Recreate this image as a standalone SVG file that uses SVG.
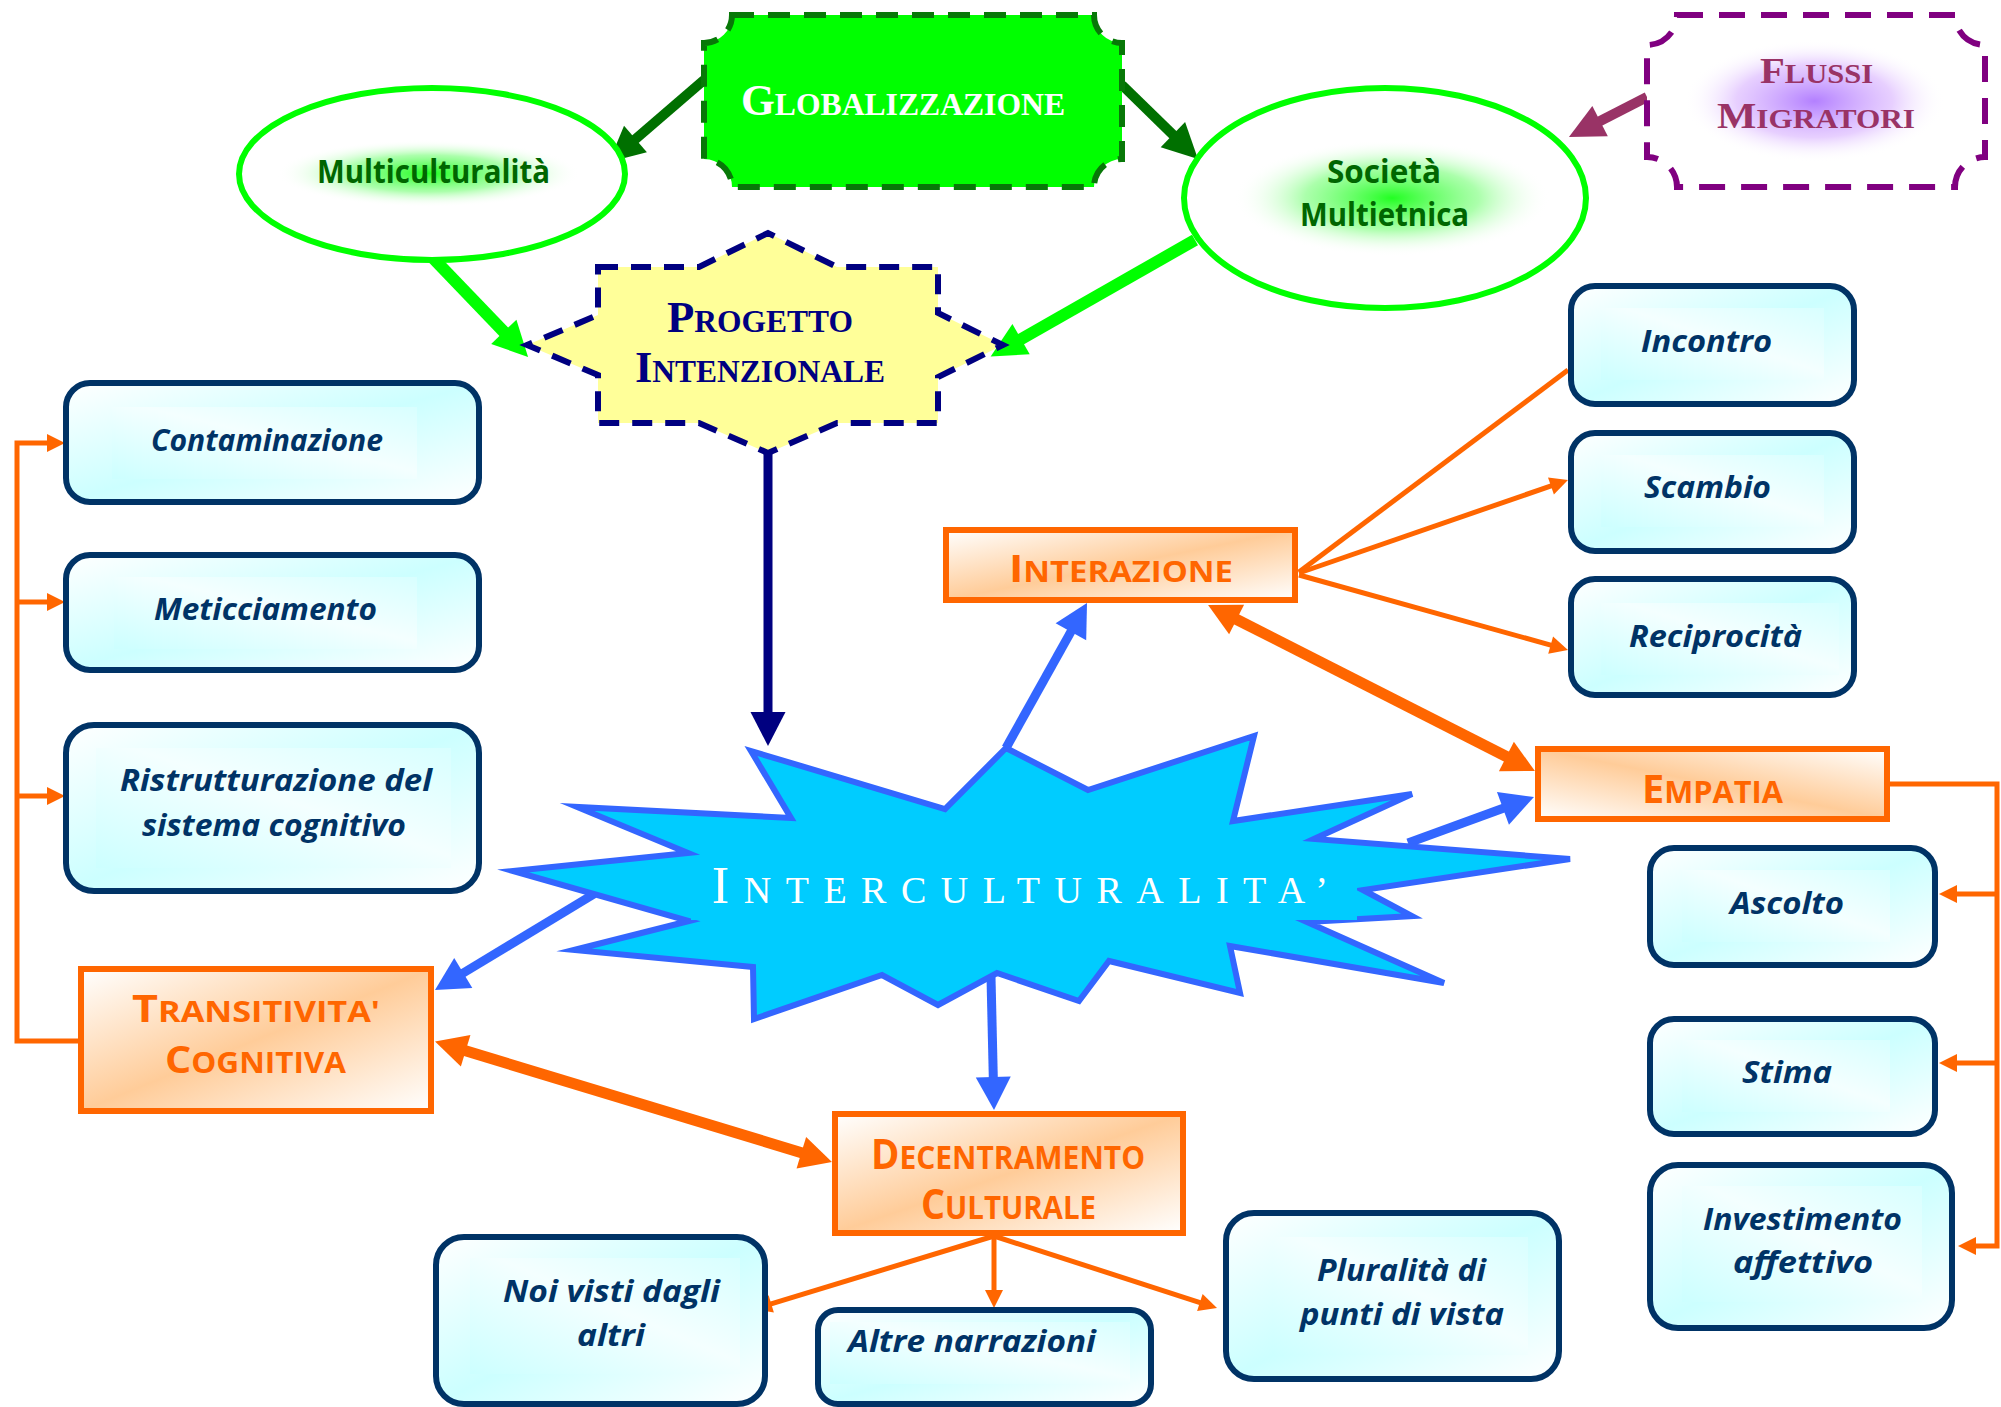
<svg xmlns="http://www.w3.org/2000/svg" width="2001" height="1407" viewBox="0 0 2001 1407">
<defs>
<style>
.box{fill:url(#gBlue);stroke:#003366;stroke-width:6}
.inner{fill:url(#gBlueIn);stroke:none}
.obox{fill:url(#gOr);stroke:#FF6600;stroke-width:6}
.bt{font-family:'Open Sans',sans-serif;font-weight:700;font-style:italic;font-size:30px;fill:#003366}
.ot{font-family:'Open Sans',sans-serif;font-weight:700;fill:#FF6600}
.st{font-family:'Liberation Serif',serif;font-weight:700}
.gt{font-family:'Open Sans',sans-serif;font-weight:700;font-size:32px;fill:#006600}
.ell{fill:#FFFFFF;stroke:#00FF00;stroke-width:6}
.thin{fill:none;stroke:#FF6600;stroke-width:5}
</style>
<linearGradient id="gBlue" x1="0" y1="0" x2="1" y2="1">
<stop offset="0" stop-color="#FFFFFF"/><stop offset="0.5" stop-color="#CCFFFF"/><stop offset="1" stop-color="#FFFFFF"/>
</linearGradient>
<linearGradient id="gBlueIn" x1="0" y1="1" x2="1" y2="0">
<stop offset="0" stop-color="#CCFFFF"/><stop offset="0.55" stop-color="#F4FFFF"/><stop offset="1" stop-color="#D8FFFF"/>
</linearGradient>
<linearGradient id="gOr" x1="0" y1="0" x2="1" y2="1">
<stop offset="0" stop-color="#FFFFFF"/><stop offset="0.5" stop-color="#FFCC99"/><stop offset="1" stop-color="#FFFFFF"/>
</linearGradient>
<linearGradient id="gOr2" x1="0" y1="1" x2="1" y2="0">
<stop offset="0" stop-color="#FFFFFF"/><stop offset="0.5" stop-color="#FFCC99"/><stop offset="1" stop-color="#FFFFFF"/>
</linearGradient>
<radialGradient id="gGlowG">
<stop offset="0" stop-color="#22FF22" stop-opacity="1"/><stop offset="0.55" stop-color="#88FF88" stop-opacity="0.7"/><stop offset="1" stop-color="#FFFFFF" stop-opacity="0"/>
</radialGradient>
<radialGradient id="gGlowP">
<stop offset="0" stop-color="#B380FF" stop-opacity="1"/><stop offset="0.6" stop-color="#DDBBFF" stop-opacity="0.7"/><stop offset="1" stop-color="#FFFFFF" stop-opacity="0"/>
</radialGradient>
<marker id="mDG" markerUnits="userSpaceOnUse" markerWidth="35" markerHeight="35" refX="1" refY="17.5" orient="auto" overflow="visible"><path d="M0,0 L35,17.5 L0,35 Z" fill="#007000"/></marker>
<marker id="mG" markerUnits="userSpaceOnUse" markerWidth="35" markerHeight="35" refX="1" refY="17.5" orient="auto" overflow="visible"><path d="M0,0 L35,17.5 L0,35 Z" fill="#00FF00"/></marker>
<marker id="mP" markerUnits="userSpaceOnUse" markerWidth="35" markerHeight="34" refX="1" refY="17" orient="auto" overflow="visible"><path d="M0,0 L35,17 L0,34 Z" fill="#993366"/></marker>
<marker id="mN" markerUnits="userSpaceOnUse" markerWidth="34" markerHeight="35" refX="1" refY="17.5" orient="auto" overflow="visible"><path d="M0,0 L34,17.5 L0,35 Z" fill="#000080"/></marker>
<marker id="mB" markerUnits="userSpaceOnUse" markerWidth="33" markerHeight="35" refX="1" refY="17.5" orient="auto" overflow="visible"><path d="M0,0 L33,17.5 L0,35 Z" fill="#3366FF"/></marker>
<marker id="mO" markerUnits="userSpaceOnUse" markerWidth="32" markerHeight="33" refX="1" refY="16.5" orient="auto-start-reverse" overflow="visible"><path d="M0,0 L32,16.5 L0,33 Z" fill="#FF6600"/></marker>
<marker id="mo" markerUnits="userSpaceOnUse" markerWidth="18" markerHeight="18" refX="1" refY="9" orient="auto" overflow="visible"><path d="M0,0 L18,9 L0,18 Z" fill="#FF6600"/></marker>
</defs>
<rect width="2001" height="1407" fill="#FFFFFF"/>

<g id="connectors">
<line x1="704" y1="80" x2="634.7" y2="139.7" stroke="#007000" stroke-width="10" marker-end="url(#mDG)"/>
<line x1="1122" y1="85" x2="1173.6" y2="135.3" stroke="#007000" stroke-width="10" marker-end="url(#mDG)"/>
<line x1="433" y1="258" x2="504.5" y2="332.5" stroke="#00FF00" stroke-width="12" marker-end="url(#mG)"/>
<line x1="1195" y1="240" x2="1020.2" y2="339.6" stroke="#00FF00" stroke-width="12" marker-end="url(#mG)"/>
<line x1="1647" y1="97" x2="1599.2" y2="121.5" stroke="#993366" stroke-width="10" marker-end="url(#mP)"/>
<line x1="768" y1="453" x2="768" y2="713" stroke="#000080" stroke-width="9" marker-end="url(#mN)"/>
<line x1="1006" y1="748" x2="1071.4" y2="630.9" stroke="#3366FF" stroke-width="9" marker-end="url(#mB)"/>
<line x1="594" y1="894" x2="462.4" y2="973.5" stroke="#3366FF" stroke-width="9" marker-end="url(#mB)"/>
<line x1="991" y1="977" x2="993.3" y2="1078" stroke="#3366FF" stroke-width="9" marker-end="url(#mB)"/>
<line x1="1408" y1="843" x2="1503.9" y2="808" stroke="#3366FF" stroke-width="9" marker-end="url(#mB)"/>
<line x1="1235.7" y1="619" x2="1507.3" y2="757" stroke="#FF6600" stroke-width="11" marker-start="url(#mO)" marker-end="url(#mO)"/>
<line x1="464.7" y1="1050.5" x2="802.3" y2="1153" stroke="#FF6600" stroke-width="11" marker-start="url(#mO)" marker-end="url(#mO)"/>
<line class="thin" x1="1299" y1="572" x2="1568" y2="370"/>
<line class="thin" x1="1299" y1="573" x2="1551.9" y2="485.6" marker-end="url(#mo)"/>
<line class="thin" x1="1299" y1="575" x2="1551.6" y2="645.4" marker-end="url(#mo)"/>
<line class="thin" x1="994" y1="1236" x2="770.3" y2="1304.1" marker-end="url(#mo)"/>
<line class="thin" x1="994" y1="1236" x2="994" y2="1291" marker-end="url(#mo)"/>
<line class="thin" x1="994" y1="1236" x2="1200.8" y2="1302.8" marker-end="url(#mo)"/>
<path class="thin" d="M79,1041 H17 V443 H48" marker-end="url(#mo)"/>
<path class="thin" d="M17,602 H48" marker-end="url(#mo)"/>
<path class="thin" d="M17,796 H48" marker-end="url(#mo)"/>
<path class="thin" d="M1890,784 H1997 V1246 H1975" marker-end="url(#mo)"/>
<path class="thin" d="M1997,894 H1956" marker-end="url(#mo)"/>
<path class="thin" d="M1997,1063 H1956" marker-end="url(#mo)"/>
</g>

<g id="globalizzazione">
<path d="M732,15 H1094 A28,28 0 0 0 1122,43 V159 A28,28 0 0 0 1094,187 H732 A28,28 0 0 0 704,159 V43 A28,28 0 0 0 732,15 Z" fill="#00FF00" stroke="#087808" stroke-width="6" stroke-dasharray="22 14"/>
<text class="st" x="741" y="115" fill="#FFFFFF" textLength="324" lengthAdjust="spacingAndGlyphs"><tspan font-size="44">G</tspan><tspan font-size="32">LOBALIZZAZIONE</tspan></text>
</g>

<g id="flussi-migratori">
<path d="M1677,15 H1955 A30,30 0 0 0 1985,45 V157 A30,30 0 0 0 1955,187 H1677 A30,30 0 0 0 1647,157 V45 A30,30 0 0 0 1677,15 Z" fill="#FFFFFF" stroke="#800080" stroke-width="6" stroke-dasharray="26 16"/>
<rect x="1684" y="40" width="261" height="122" fill="url(#gGlowP)"/>
<text class="st" x="1760" y="83" fill="#993366" textLength="113" lengthAdjust="spacingAndGlyphs"><tspan font-size="36">F</tspan><tspan font-size="27">LUSSI</tspan></text>
<text class="st" x="1717" y="128" fill="#993366" textLength="198" lengthAdjust="spacingAndGlyphs"><tspan font-size="36">M</tspan><tspan font-size="27">IGRATORI</tspan></text>
</g>

<g id="multiculturalita">
<ellipse class="ell" cx="432" cy="174" rx="193" ry="86"/>
<rect x="277" y="140" width="303" height="67" fill="url(#gGlowG)"/>
<text class="gt" x="317" y="183" textLength="233" lengthAdjust="spacingAndGlyphs">Multiculturalità</text>
</g>

<g id="societa-multietnica">
<ellipse class="ell" cx="1385" cy="198" rx="201" ry="110"/>
<rect x="1234" y="140" width="316" height="116" fill="url(#gGlowG)"/>
<text class="gt" x="1327" y="183" textLength="114" lengthAdjust="spacingAndGlyphs">Società</text>
<text class="gt" x="1300" y="226" textLength="169" lengthAdjust="spacingAndGlyphs">Multietnica</text>
</g>

<g id="progetto-intenzionale">
<path d="M598,267 H699 L768,233 L837,267 H938 V313 L1003,345 L938,377 V423 H837 L768,453 L699,423 H598 V375 L527,345 L598,315 Z" fill="#FFFF99" stroke="#000080" stroke-width="6" stroke-dasharray="20 13"/>
<text class="st" x="667" y="332" fill="#000080" textLength="186" lengthAdjust="spacingAndGlyphs"><tspan font-size="44">P</tspan><tspan font-size="31">ROGETTO</tspan></text>
<text class="st" x="635" y="382" fill="#000080" textLength="250" lengthAdjust="spacingAndGlyphs"><tspan font-size="44">I</tspan><tspan font-size="31">NTENZIONALE</tspan></text>
</g>

<g id="interculturalita">
<polygon points="751,751 791,818 577,807 688,853 513,871 689,921 574,950 753,967 754,1019 882,975 938,1005 997,973 1079,1001 1109,961 1240,993 1230,946 1444,983 1307,922 1412,916 1363,890 1570,859 1314,839 1412,794 1233,821 1254,736 1088,790 1006,748 945,809" fill="#00CCFF" stroke="#3366FF" stroke-width="6" stroke-miterlimit="6"/>
<rect x="691" y="856" width="666" height="64" fill="#00CCFF"/>
<text x="712" y="903" fill="#FFFFFF" font-family="'Liberation Serif',serif" textLength="616" lengthAdjust="spacing"><tspan font-size="52">I</tspan><tspan font-size="38">NTERCULTURALITA’</tspan></text>
</g>

<g id="contaminazione">
<rect class="box" x="66" y="383" width="413" height="119" rx="24"/>
<rect class="inner" x="112" y="407" width="305" height="72"/>
<text class="bt" x="151" y="451" textLength="232" lengthAdjust="spacingAndGlyphs">Contaminazione</text>
</g>
<g id="meticciamento">
<rect class="box" x="66" y="555" width="413" height="115" rx="24"/>
<rect class="inner" x="114" y="577" width="303" height="72"/>
<text class="bt" x="154" y="620" textLength="223" lengthAdjust="spacingAndGlyphs">Meticciamento</text>
</g>
<g id="ristrutturazione">
<rect class="box" x="66" y="725" width="413" height="166" rx="28"/>
<rect class="inner" x="96" y="748" width="355" height="120"/>
<text class="bt" x="120" y="791" textLength="312" lengthAdjust="spacingAndGlyphs">Ristrutturazione del</text>
<text class="bt" x="142" y="836" textLength="264" lengthAdjust="spacingAndGlyphs">sistema cognitivo</text>
</g>
<g id="transitivita-cognitiva">
<rect class="obox" x="81" y="969" width="350" height="142"/>
<text class="ot" x="132" y="1022" textLength="248" lengthAdjust="spacingAndGlyphs"><tspan font-size="38">T</tspan><tspan font-size="29">RANSITIVITA'</tspan></text>
<text class="ot" x="165" y="1073" textLength="181" lengthAdjust="spacingAndGlyphs"><tspan font-size="38">C</tspan><tspan font-size="29">OGNITIVA</tspan></text>
</g>

<g id="interazione">
<rect class="obox" x="946" y="530" width="349" height="70"/>
<text class="ot" x="1009" y="582" textLength="224" lengthAdjust="spacingAndGlyphs"><tspan font-size="37">I</tspan><tspan font-size="28">NTERAZIONE</tspan></text>
</g>
<g id="incontro">
<rect class="box" x="1571" y="286" width="283" height="118" rx="24"/>
<rect class="inner" x="1601" y="308" width="223" height="72"/>
<text class="bt" x="1641" y="352" textLength="131" lengthAdjust="spacingAndGlyphs">Incontro</text>
</g>
<g id="scambio">
<rect class="box" x="1571" y="433" width="283" height="118" rx="24"/>
<rect class="inner" x="1601" y="455" width="223" height="72"/>
<text class="bt" x="1644" y="498" textLength="127" lengthAdjust="spacingAndGlyphs">Scambio</text>
</g>
<g id="reciprocita">
<rect class="box" x="1571" y="579" width="283" height="116" rx="24"/>
<rect class="inner" x="1601" y="603" width="238" height="72"/>
<text class="bt" x="1629" y="647" textLength="173" lengthAdjust="spacingAndGlyphs">Reciprocità</text>
</g>

<g id="empatia">
<rect x="1538" y="749" width="349" height="70" fill="url(#gOr2)" stroke="#FF6600" stroke-width="6"/>
<text class="ot" x="1642" y="803" textLength="141" lengthAdjust="spacingAndGlyphs"><tspan font-size="40">E</tspan><tspan font-size="31">MPATIA</tspan></text>
</g>
<g id="ascolto">
<rect class="box" x="1650" y="848" width="285" height="117" rx="24"/>
<rect class="inner" x="1682" y="870" width="208" height="72"/>
<text class="bt" x="1730" y="914" textLength="114" lengthAdjust="spacingAndGlyphs">Ascolto</text>
</g>
<g id="stima">
<rect class="box" x="1650" y="1019" width="285" height="115" rx="24"/>
<rect class="inner" x="1682" y="1040" width="208" height="72"/>
<text class="bt" x="1742" y="1083" textLength="90" lengthAdjust="spacingAndGlyphs">Stima</text>
</g>
<g id="investimento-affettivo">
<rect class="box" x="1650" y="1165" width="302" height="163" rx="28"/>
<rect class="inner" x="1682" y="1186" width="240" height="116"/>
<text class="bt" x="1703" y="1230" textLength="199" lengthAdjust="spacingAndGlyphs">Investimento</text>
<text class="bt" x="1733" y="1273" textLength="140" lengthAdjust="spacingAndGlyphs">affettivo</text>
</g>

<g id="decentramento-culturale">
<rect class="obox" x="835" y="1114" width="348" height="119"/>
<text class="ot" x="871" y="1169" textLength="274" lengthAdjust="spacingAndGlyphs"><tspan font-size="41">D</tspan><tspan font-size="32">ECENTRAMENTO</tspan></text>
<text class="ot" x="921" y="1219" textLength="175" lengthAdjust="spacingAndGlyphs"><tspan font-size="41">C</tspan><tspan font-size="32">ULTURALE</tspan></text>
</g>
<g id="noi-visti">
<rect class="box" x="436" y="1237" width="329" height="167" rx="28"/>
<rect class="inner" x="470" y="1258" width="270" height="116"/>
<text class="bt" x="503" y="1302" textLength="217" lengthAdjust="spacingAndGlyphs">Noi visti dagli</text>
<text class="bt" x="577" y="1346" textLength="68" lengthAdjust="spacingAndGlyphs">altri</text>
</g>
<g id="altre-narrazioni">
<rect class="box" x="818" y="1310" width="333" height="94" rx="20"/>
<rect class="inner" x="830" y="1322" width="300" height="62"/>
<text class="bt" x="848" y="1352" textLength="248" lengthAdjust="spacingAndGlyphs">Altre narrazioni</text>
</g>
<g id="pluralita">
<rect class="box" x="1226" y="1213" width="333" height="166" rx="28"/>
<rect class="inner" x="1272" y="1237" width="256" height="118"/>
<text class="bt" x="1317" y="1281" textLength="169" lengthAdjust="spacingAndGlyphs">Pluralità di</text>
<text class="bt" x="1300" y="1325" textLength="204" lengthAdjust="spacingAndGlyphs">punti di vista</text>
</g>
</svg>
